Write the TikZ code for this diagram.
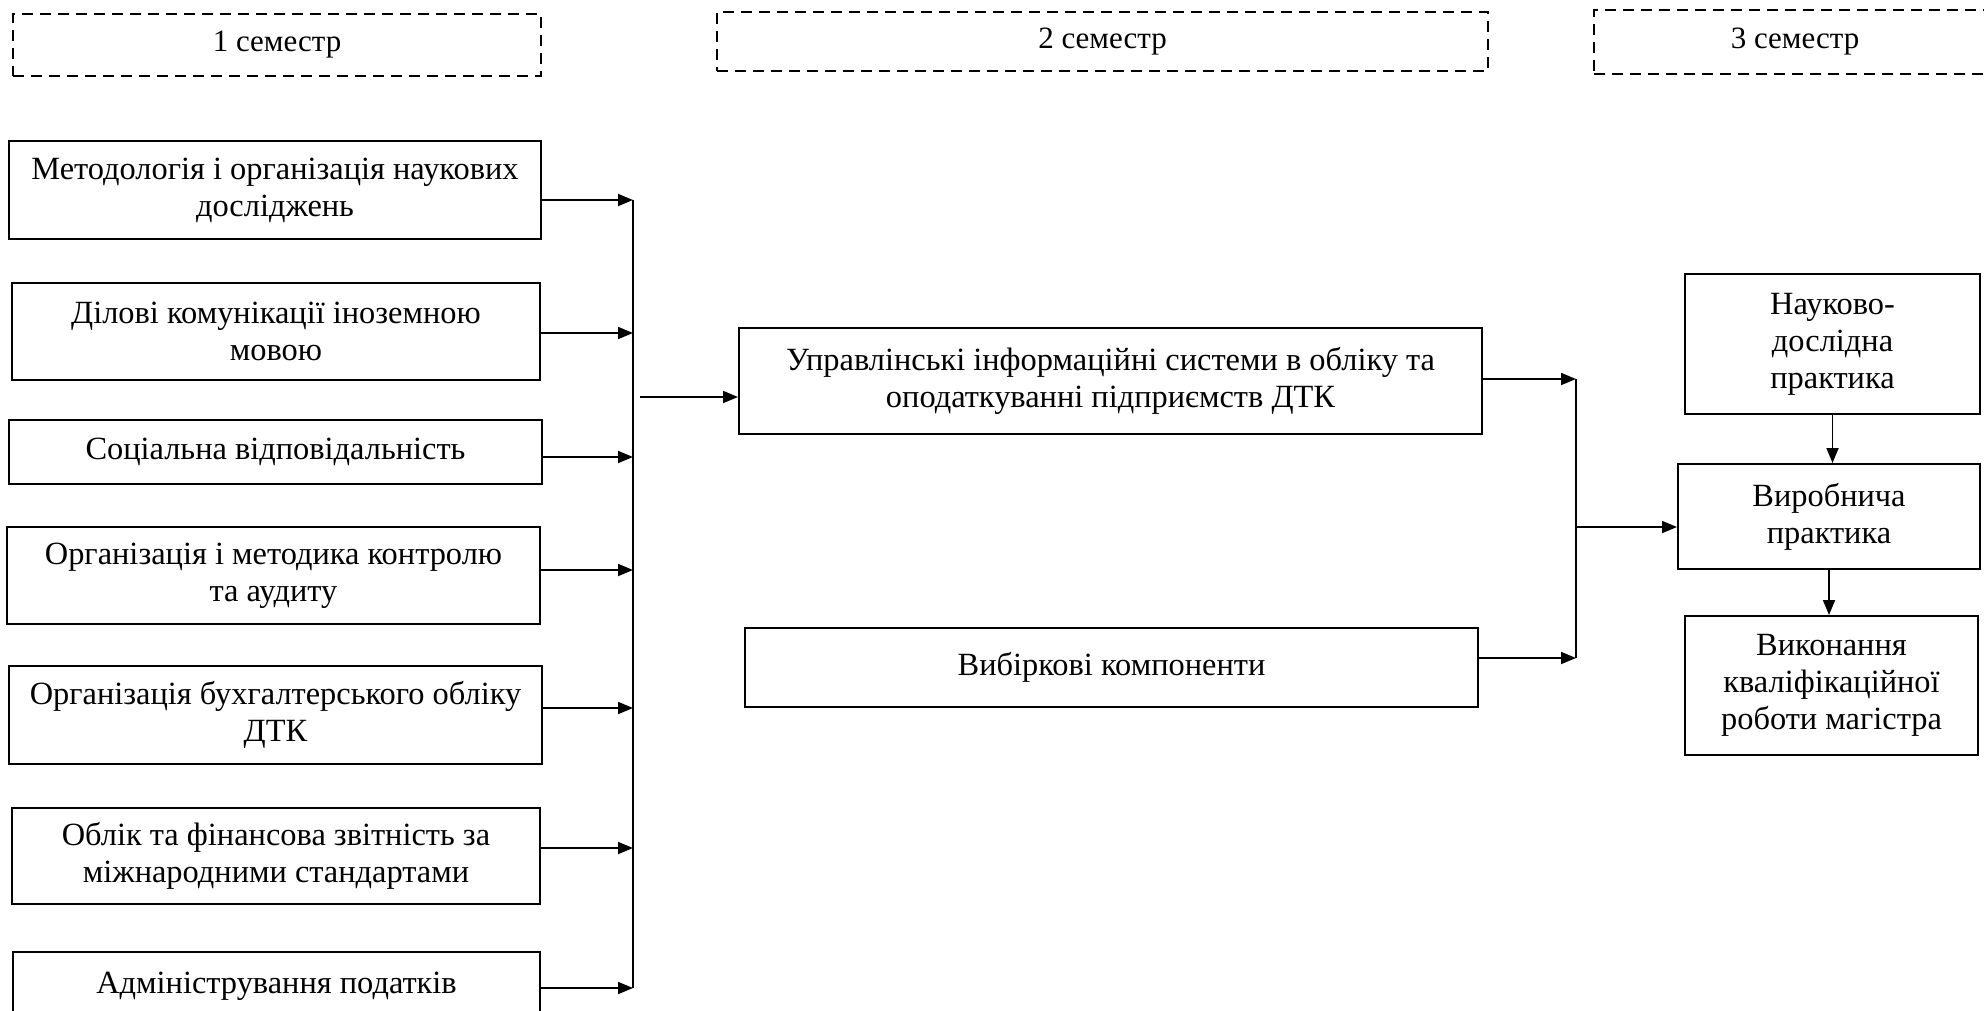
\documentclass[tikz,border=0pt]{standalone}
\usepackage{fontspec}
\setmainfont{Liberation Serif}
\usetikzlibrary{arrows.meta,calc}
\tikzset{
  boxs/.style={draw=black, line width=2pt, inner sep=0pt, align=center,
    font=\fontsize{32.4}{37}\selectfont},
  sem/.style={draw=black, line width=2.4pt, dash pattern=on 11pt off 7pt,
    inner sep=0pt, align=center, font=\fontsize{31}{37}\selectfont},
  arr/.style={line width=1.8pt, -{Triangle[length=15pt,width=12pt]}},
  busline/.style={line width=1.6pt}
}
\begin{document}
\begin{tikzpicture}[x=1pt,y=-1pt]
\clip (0,0) rectangle (1984,1010);
\fill[white] (0,0) rectangle (1984,1010);
% semester headers
\node[sem, minimum width=528pt, minimum height=62pt] (d1) at (277,45) {1 семестр};
\node[sem, minimum width=771pt, minimum height=59pt] (d2) at (1102.5,41.5) {2 семестр};
\node[sem, minimum width=402pt, minimum height=64pt] (d3) at (1795,42) {3 семестр};
% first semester boxes
\node[boxs, minimum width=532pt, minimum height=98pt] (b1) at (275,190) {Методологія і організація наукових\\досліджень};
\node[boxs, minimum width=528pt, minimum height=97pt] (b2) at (276,331.5) {Ділові комунікації іноземною\\мовою};
\node[boxs, minimum width=533pt, minimum height=64pt] (b3) at (275.5,452) {Соціальна відповідальність};
\node[boxs, minimum width=533pt, minimum height=97pt] (b4) at (273.5,575.5) {Організація і методика контролю\\та аудиту};
\node[boxs, minimum width=533pt, minimum height=98pt] (b5) at (275.5,715) {Організація бухгалтерського обліку\\ДТК};
\node[boxs, minimum width=528pt, minimum height=96pt] (b6) at (276,856) {Облік та фінансова звітність за\\міжнародними стандартами};
\node[boxs, minimum width=527pt, minimum height=72pt] (b7) at (276.5,988) {\raisebox{10pt}{Адміністрування податків}};
% bus 1
\coordinate (p1) at (633,200);
\coordinate (p2) at (633,333);
\coordinate (p3) at (633,457);
\coordinate (p4) at (633,570);
\coordinate (p5) at (633,708);
\coordinate (p6) at (633,848);
\coordinate (p7) at (633,988);
\draw[busline] (p1) -- (p7);
\draw[arr] (b1.east |- p1) -- (p1);
\draw[arr] (b2.east |- p2) -- (p2);
\draw[arr] (b3.east |- p3) -- (p3);
\draw[arr] (b4.east |- p4) -- (p4);
\draw[arr] (b5.east |- p5) -- (p5);
\draw[arr] (b6.east |- p6) -- (p6);
\draw[arr] (b7.east |- p7) -- (p7);
% second semester
\node[boxs, minimum width=743pt, minimum height=106pt] (u) at (1110.5,381) {Управлінські інформаційні системи в обліку та\\оподаткуванні підприємств ДТК};
\node[boxs, minimum width=733pt, minimum height=79pt] (v) at (1111.5,667.5) {\raisebox{6pt}{Вибіркові компоненти}};
\coordinate (q) at (640,397);
\draw[arr] (q) -- (q -| u.west);
% bus 2
\coordinate (r1) at (1576,379);
\coordinate (r2) at (1576,658);
\coordinate (r3) at (1576,527);
\draw[busline] (r1) -- (r2);
\draw[arr] (u.east |- r1) -- (r1);
\draw[arr] (v.east |- r2) -- (r2);
% third semester
\node[boxs, minimum width=295pt, minimum height=140pt] (n) at (1832.5,344) {Науково-\\дослідна\\практика};
\node[boxs, minimum width=302pt, minimum height=105pt] (w) at (1829,516.5) {Виробнича\\практика};
\node[boxs, minimum width=293pt, minimum height=139pt] (k) at (1831.5,685.5) {Виконання\\кваліфікаційної\\роботи магістра};
\draw[arr] (r3) -- (r3 -| w.west);
\draw[arr] (n.south) -- (n.south |- w.north);
\draw[arr] (w.south) -- (w.south |- k.north);
\end{tikzpicture}
\end{document}
